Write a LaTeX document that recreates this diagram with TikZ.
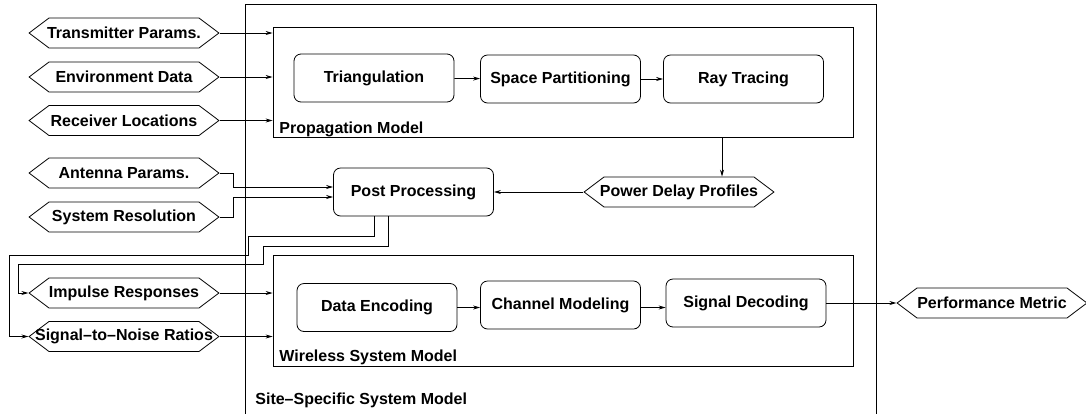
\documentclass[tikz,border=0pt]{standalone}
\usepackage{fontspec}
\setmainfont{Liberation Sans}
\usetikzlibrary{calc,shapes.symbols,arrows.meta}
\def\hexlbl#1{\makebox[150pt]{#1}}
\tikzset{
	blk/.style={draw, rounded corners=7pt, minimum width=160pt, minimum height=48pt, inner sep=0pt},
	hexio/.style={draw, signal, signal to=west and east, signal pointer angle=74, minimum height=30pt, inner xsep=0pt, inner ysep=0pt},
	arr/.style={-{Stealth[length=7pt,width=4pt]}},
	grp/.style={draw, inner sep=0pt},
	lbl/.style={anchor=base west, inner sep=0pt},
}

\begin{document}
\begin{tikzpicture}[x=1pt, y=-1pt, line width=0.8pt, font=\fontsize{16}{19}\selectfont\bfseries]
			%%%%% START %%%%%
			\useasboundingbox (0,0) rectangle (1086,413);
			
			% frames
			\node[grp, minimum width=631pt, minimum height=410pt] (site) at (560.5,209.5) {};
			\node[grp, minimum width=580pt, minimum height=110pt] (prop) at (563,82) {};
			\node[grp, minimum width=580pt, minimum height=111pt] (wsm) at (563,310.5) {};
			\node[lbl] (sitelbl) at (255,404) {Site--Specific System Model};
			\node[lbl] (proplbl) at (279,133) {Propagation Model};
			\node[lbl] (wsmlbl) at (279,361) {Wireless System Model};
			
			% inputs and outputs
			\node[hexio] (tx) at (124,33) {\hexlbl{Transmitter Params.}};
			\node[hexio] (env) at (124,77) {\hexlbl{Environment Data}};
			\node[hexio] (rx) at (124,120.5) {\hexlbl{Receiver Locations}};
			\node[hexio] (ant) at (124,173) {\hexlbl{Antenna Params.}};
			\node[hexio] (res) at (124,217) {\hexlbl{System Resolution}};
			\node[hexio] (ir) at (124,293) {\hexlbl{Impulse Responses}};
			\node[hexio] (snr) at (124,336.5) {\hexlbl{Signal--to--Noise Ratios}};
			\node[hexio] (pdp) at (679,192) {\hexlbl{Power Delay Profiles}};
			\node[hexio] (pm) at (992,303) {\hexlbl{Performance Metric}};
			
			% blocks
			\node[blk] (tri) at (374,78) {Triangulation};
			\node[blk] (sp) at (560.5,79) {Space Partitioning};
			\node[blk] (rt) at (743.5,79) {Ray Tracing};
			\node[blk] (pp) at (413.5,192) {Post Processing};
			\node[blk] (de) at (377,307.5) {Data Encoding};
			\node[blk] (cm) at (560.5,305) {Channel Modeling};
			\node[blk] (sd) at (746,303) {Signal Decoding};
			
			% connectors
			\draw[arr] (tx.east) -- (tx.east -| prop.west);
			\draw[arr] (env.east) -- (env.east -| prop.west);
			\draw[arr] (rx.east) -- (rx.east -| prop.west);
			\draw[arr] (tri) -- (sp);
			\draw[arr] (sp) -- (rt);
			
			\coordinate (pdptop) at ($(pdp.north)+(43,0)$);
			\draw[arr] (pdptop |- prop.south) -- (pdptop);
			\draw[arr] (pdp.west) -- (pp.east);
			\draw[arr] (ant.east) -- ++(14,0) |- ($(pp.west)+(0,-5)$);
			\draw[arr] (res.east) -- ++(14,0) |- ($(pp.west)+(0,5)$);
			
			\draw[arr] ($(pp.south west)+(41,0)$) -- ++(0,20) -- ++(-126,0) -- ++(0,19) -| ($(snr.west)+(-19,0)$) -- (snr.west);
			\draw[arr] ($(pp.south west)+(55,0)$) -- ++(0,30) -- ++(-125,0) -- ++(0,18) -| ($(ir.west)+(-10,0)$) -- (ir.west);
			
			\draw[arr] (ir.east) -- (ir.east -| wsm.west);
			\draw[arr] (snr.east) -- (snr.east -| wsm.west);
			\draw[arr] (de.east) -- (de.east -| cm.west);
			\draw[arr] (cm.east |- de.east) -- (de.east -| sd.west);
			\draw[arr] (sd.east) -- (pm.west);
			%%%%% END %%%%%
\end{tikzpicture}
\end{document}
